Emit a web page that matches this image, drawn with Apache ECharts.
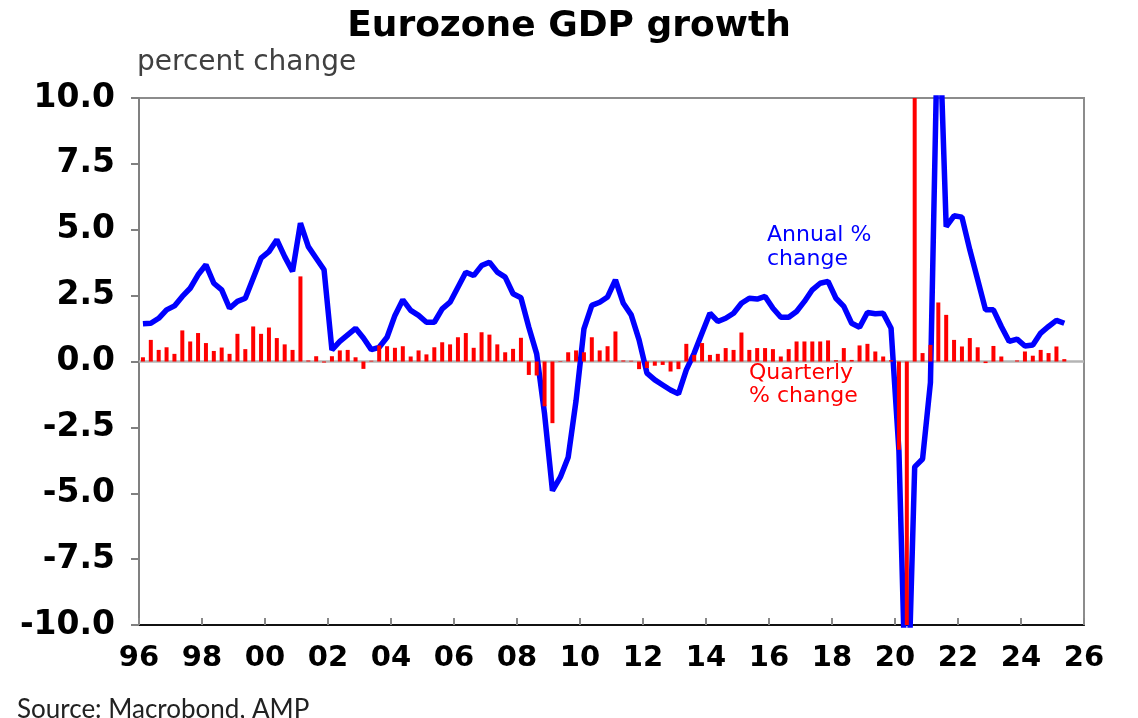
<!DOCTYPE html>
<html>
<head>
<meta charset="utf-8">
<title>Eurozone GDP growth</title>
<script src="https://cdn.jsdelivr.net/npm/echarts@6/dist/echarts.min.js"></script>
<style>
    html, body { margin: 0; padding: 0; background: #fff; }
    #chart { width: 1138px; height: 718px; }
</style>
</head>
<body>
<div id="chart"></div>
<script>
/* Eurozone GDP growth, quarterly data 1996 Q1 .. 2025 Q2 */
const firstYear = 1996;

/* Quarterly % change (red bars) */
const quarterly = [
    0.16, 0.82, 0.44, 0.54, 0.29, 1.18, 0.76, 1.08, 0.70, 0.40,
    0.53, 0.29, 1.05, 0.47, 1.33, 1.05, 1.29, 0.89, 0.65, 0.44,
    3.23, 0.04, 0.20, -0.04, 0.20, 0.42, 0.44, 0.16, -0.28, 0.03,
    0.61, 0.58, 0.52, 0.58, 0.19, 0.42, 0.27, 0.54, 0.73, 0.65,
    0.92, 1.08, 0.52, 1.11, 1.02, 0.65, 0.35, 0.48, 0.90, -0.51,
    -0.53, -1.70, -2.34, 0.02, 0.35, 0.42, 0.35, 0.92, 0.42, 0.58,
    1.14, 0.04, 0.03, -0.29, -0.25, -0.16, -0.13, -0.38, -0.29, 0.67,
    0.25, 0.70, 0.25, 0.29, 0.51, 0.44, 1.10, 0.44, 0.51, 0.51,
    0.47, 0.19, 0.47, 0.76, 0.76, 0.76, 0.76, 0.80, 0.05, 0.51,
    0.06, 0.61, 0.67, 0.38, 0.19, 0.05, -3.35, -11.5, 12.5, 0.32,
    0.63, 2.24, 1.77, 0.82, 0.57, 0.89, 0.54, -0.06, 0.59, 0.19,
    0.00, 0.04, 0.38, 0.22, 0.44, 0.32, 0.57, 0.09
];

/* Annual % change (blue line) */
const annual = [
    1.43, 1.45, 1.64, 1.96, 2.11, 2.47, 2.78, 3.29, 3.67, 2.97,
    2.72, 2.02, 2.28, 2.40, 3.16, 3.92, 4.17, 4.62, 3.98, 3.42,
    5.25, 4.36, 3.92, 3.48, 0.44, 0.76, 1.01, 1.26, 0.89, 0.45,
    0.54, 0.92, 1.75, 2.34, 1.94, 1.75, 1.49, 1.49, 2.00, 2.25,
    2.82, 3.39, 3.26, 3.64, 3.77, 3.39, 3.20, 2.57, 2.42, 1.30,
    0.29, -1.99, -4.90, -4.39, -3.63, -1.48, 1.24, 2.13, 2.25, 2.45,
    3.10, 2.21, 1.77, 0.82, -0.44, -0.70, -0.89, -1.08, -1.23, -0.32,
    0.32, 1.08, 1.83, 1.52, 1.64, 1.83, 2.21, 2.40, 2.37, 2.47,
    2.02, 1.68, 1.68, 1.90, 2.28, 2.72, 2.97, 3.04, 2.40, 2.09,
    1.45, 1.30, 1.86, 1.81, 1.83, 1.26, -3.40, -14.5, -4.00, -3.70,
    -0.80, 14.2, 5.12, 5.53, 5.48, 4.24, 3.10, 1.96, 1.96, 1.33,
    0.76, 0.85, 0.59, 0.63, 1.08, 1.33, 1.56, 1.45
];

/* each quarter is placed at its middle on the year axis */
const quarterPos = quarterly.map((v, i) => firstYear + i / 4 + 0.125);

const barData = quarterly.map((v, i) => [quarterPos[i], v]);
const lineData = annual.map((v, i) => [quarterPos[i], v]);

let chartDom = document.getElementById('chart');
let myChart = echarts.init(chartDom);

let option = {
    animation: false,
    backgroundColor: '#ffffff',
    title: {
        text: 'Eurozone GDP growth',
        left: 'center',
        top: 9,
        padding: 0,
        textStyle: {
            fontFamily: '"DejaVu Sans", sans-serif',
            fontWeight: 'bold',
            fontSize: 36,
            color: '#000',
        },
    },
    grid: {
        left: 139,
        right: 54,
        top: 98,
        bottom: 93,
        show: true,
        borderColor: '#8c8c8c',
        borderWidth: 2,
    },
    xAxis: {
        type: 'value',
        min: 1996,
        max: 2026,
        interval: 2,
        axisLine: { show: true, onZero: false, lineStyle: { color: '#111', width: 2 } },
        axisTick: { show: true, inside: true, length: 7, lineStyle: { color: '#888', width: 2 } },
        splitLine: { show: false },
        axisLabel: {
            margin: 19,
            fontFamily: '"DejaVu Sans", sans-serif',
            fontWeight: 'bold',
            fontSize: 29,
            color: '#000',
            formatter: (v) => String(v % 100).padStart(2, '0'),
        },
    },
    yAxis: {
        type: 'value',
        min: -10,
        max: 10,
        interval: 2.5,
        axisLine: { show: true, onZero: false, lineStyle: { color: '#808080', width: 2 } },
        axisTick: { show: true, inside: false, length: 8, lineStyle: { color: '#808080', width: 2 } },
        splitLine: { show: false },
        axisLabel: {
            margin: 24,
            fontFamily: '"DejaVu Sans", sans-serif',
            fontWeight: 'bold',
            fontSize: 33,
            color: '#000',
            formatter: (v) => v.toFixed(1),
        },
    },
    series: [
        {
            name: 'Annual % change',
            type: 'line',
            data: lineData,
            showSymbol: false,
            clip: true,
            lineStyle: { color: '#0000ff', width: 5.5 },
            markLine: {
                silent: true,
                symbol: 'none',
                label: { show: false },
                lineStyle: { color: '#b4b4b4', width: 2.5, type: 'solid' },
                data: [{ yAxis: 0 }],
                z: 1,
            },
            z: 2,
        },
        {
            name: 'Quarterly % change',
            type: 'bar',
            data: barData,
            barWidth: 4,
            clip: true,
            itemStyle: { color: '#ff0000' },
            z: 3,
        },
    ],
    graphic: [
        {
            type: 'text',
            left: 137,
            top: 49,
            style: {
                text: 'percent change',
                fill: '#404040',
                font: '28px "DejaVu Sans", sans-serif',
            },
        },
        {
            type: 'text',
            left: 767,
            top: 223,
            style: {
                text: 'Annual %\nchange',
                fill: '#0000ff',
                font: '22px "DejaVu Sans", sans-serif',
                lineHeight: 24,
            },
        },
        {
            type: 'text',
            left: 749,
            top: 362,
            style: {
                text: 'Quarterly\n% change',
                fill: '#ff0000',
                font: '22px "DejaVu Sans", sans-serif',
                lineHeight: 23,
            },
        },
        {
            type: 'text',
            left: 17,
            top: 697,
            style: {
                text: 'Source: Macrobond, AMP',
                fill: '#222',
                font: '26px Lato, sans-serif',
            },
        },
    ],
};

option && myChart.setOption(option);

window.addEventListener('resize', () => {
    myChart.resize();
});
</script>
</body>
</html>
